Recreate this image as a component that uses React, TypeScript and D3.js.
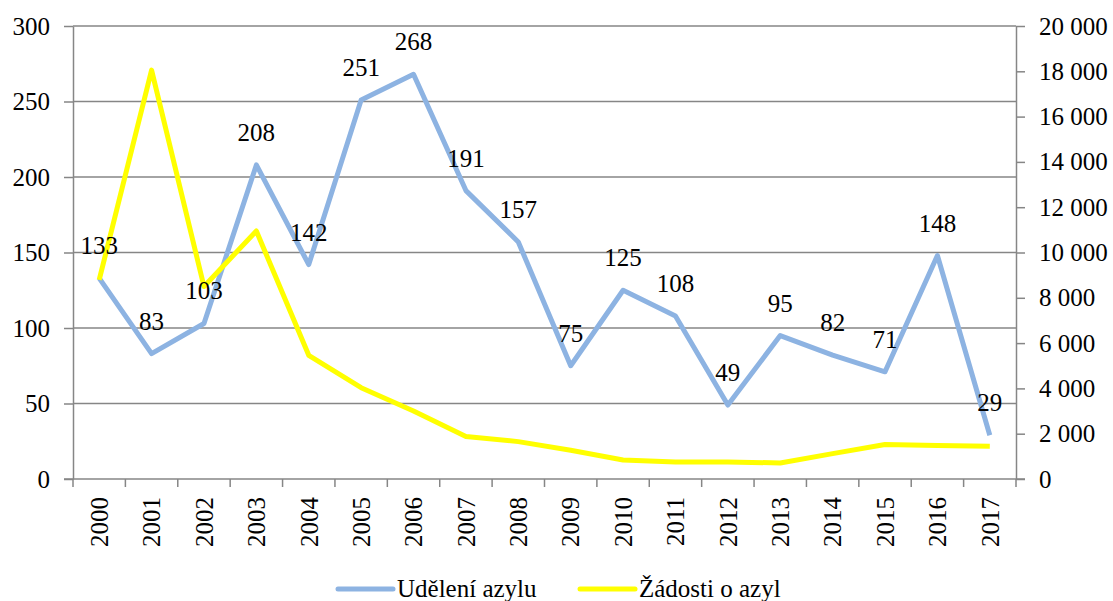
import { useEffect, useRef } from 'react';
import * as d3 from 'd3';

const years = ['2000', '2001', '2002', '2003', '2004', '2005', '2006', '2007', '2008', '2009',
  '2010', '2011', '2012', '2013', '2014', '2015', '2016', '2017'];
const grants = [133, 83, 103, 208, 142, 251, 268, 191, 157, 75, 125, 108, 49, 95, 82, 71, 148, 29];
const applications = [8790, 18050, 8500, 10950, 5460, 4030, 3000, 1880, 1650, 1270, 840, 750, 750, 710,
  1120, 1525, 1480, 1450];
const leftTicks = [0, 50, 100, 150, 200, 250, 300];
const rightTicks = [0, 2000, 4000, 6000, 8000, 10000, 12000, 14000, 16000, 18000, 20000];
const seriesNames = ['Udělení azylu', 'Žádosti o azyl'];

const BLUE = '#8db3e2';
const YELLOW = '#ffff00';
const GRID = '#868686';
const FONT = 'Liberation Serif, DejaVu Serif, serif';

const App = () => {
  const svgRef = useRef(null);

  useEffect(() => {
    if (!svgRef.current) return;
    const width = 1113;
    const height = 601;
    const margin = { top: 26, right: 97, bottom: 122, left: 73 };

    const svg = d3.select(svgRef.current);
    svg.selectAll('*').remove();
    svg.attr('width', width).attr('height', height)
      .attr('font-family', FONT)
      .attr('font-size', 25);

    const x = d3.scaleBand()
      .domain(years)
      .range([margin.left, width - margin.right]);
    const yL = d3.scaleLinear().domain([0, 300]).range([height - margin.bottom, margin.top]);
    const yR = d3.scaleLinear().domain([0, 20000]).range([height - margin.bottom, margin.top]);
    const cx = d => x(d) + x.bandwidth() / 2;

    // grid lines
    svg.append('g')
      .selectAll('line')
      .data(leftTicks.filter(t => t > 0))
      .enter()
      .append('line')
      .attr('x1', margin.left)
      .attr('x2', width - margin.right)
      .attr('y1', d => yL(d))
      .attr('y2', d => yL(d))
      .attr('stroke', GRID)
      .attr('stroke-width', 1.5);

    // left axis
    const left = svg.append('g')
      .attr('transform', `translate(${margin.left},0)`)
      .call(d3.axisLeft(yL).tickValues(leftTicks).tickSize(9).tickPadding(14).tickSizeOuter(0));
    left.attr('font-family', FONT).attr('font-size', 25);
    left.select('.domain').attr('stroke', GRID).attr('stroke-width', 1.5);
    left.selectAll('line').attr('stroke', GRID).attr('stroke-width', 1.5);
    left.selectAll('text').attr('fill', '#000');

    // right axis
    const right = svg.append('g')
      .attr('transform', `translate(${width - margin.right},0)`)
      .call(d3.axisRight(yR).tickValues(rightTicks).tickSize(9).tickPadding(14).tickSizeOuter(0)
        .tickFormat(d => d3.format(',')(d).replace(/,/g, ' ')));
    right.attr('font-family', FONT).attr('font-size', 25);
    right.select('.domain').attr('stroke', GRID).attr('stroke-width', 1.5);
    right.selectAll('line').attr('stroke', GRID).attr('stroke-width', 1.5);
    right.selectAll('text').attr('fill', '#000');

    // bottom axis
    const bottomY = height - margin.bottom;
    svg.append('line')
      .attr('x1', margin.left - 9)
      .attr('x2', width - margin.right + 9)
      .attr('y1', bottomY)
      .attr('y2', bottomY)
      .attr('stroke', GRID)
      .attr('stroke-width', 1.5);
    svg.append('g')
      .selectAll('line')
      .data(years.concat(['end']))
      .enter()
      .append('line')
      .attr('x1', (d, i) => margin.left + i * x.bandwidth())
      .attr('x2', (d, i) => margin.left + i * x.bandwidth())
      .attr('y1', bottomY)
      .attr('y2', bottomY + 8)
      .attr('stroke', GRID)
      .attr('stroke-width', 1.5);
    svg.append('g')
      .selectAll('text')
      .data(years)
      .enter()
      .append('text')
      .attr('transform', d => `translate(${cx(d)},${bottomY + 18}) rotate(-90)`)
      .attr('text-anchor', 'end')
      .attr('dy', '0.35em')
      .text(d => d);

    // lines
    const lineL = d3.line()
      .x((d, i) => cx(years[i]))
      .y(d => yL(d));
    const lineR = d3.line()
      .x((d, i) => cx(years[i]))
      .y(d => yR(d));

    svg.append('path')
      .datum(grants)
      .attr('fill', 'none')
      .attr('stroke', BLUE)
      .attr('stroke-width', 5)
      .attr('stroke-linejoin', 'round')
      .attr('d', lineL);

    svg.append('path')
      .datum(applications)
      .attr('fill', 'none')
      .attr('stroke', YELLOW)
      .attr('stroke-width', 5)
      .attr('stroke-linejoin', 'round')
      .attr('d', lineR);

    // data labels
    svg.append('g')
      .selectAll('text')
      .data(grants)
      .enter()
      .append('text')
      .attr('x', (d, i) => cx(years[i]))
      .attr('y', d => yL(d) - 24)
      .attr('text-anchor', 'middle')
      .text(d => d);

    // legend
    const legend = svg.append('g');
    const items = [
      { name: seriesNames[0], color: BLUE, x: 338 },
      { name: seriesNames[1], color: YELLOW, x: 580 },
    ];
    items.forEach(it => {
      legend.append('line')
        .attr('x1', it.x)
        .attr('x2', it.x + 55)
        .attr('y1', 589)
        .attr('y2', 589)
        .attr('stroke', it.color)
        .attr('stroke-width', 5)
        .attr('stroke-linecap', 'round');
      legend.append('text')
        .attr('x', it.x + 59)
        .attr('y', 597)
        .text(it.name);
    });
  }, []);

  return (
    <div style={{ position: 'absolute', left: 0, top: 0, width: 1113, height: 601, background: '#fff' }}>
      <svg ref={svgRef} style={{ display: 'block' }} />
    </div>
  );
};

export default App;
